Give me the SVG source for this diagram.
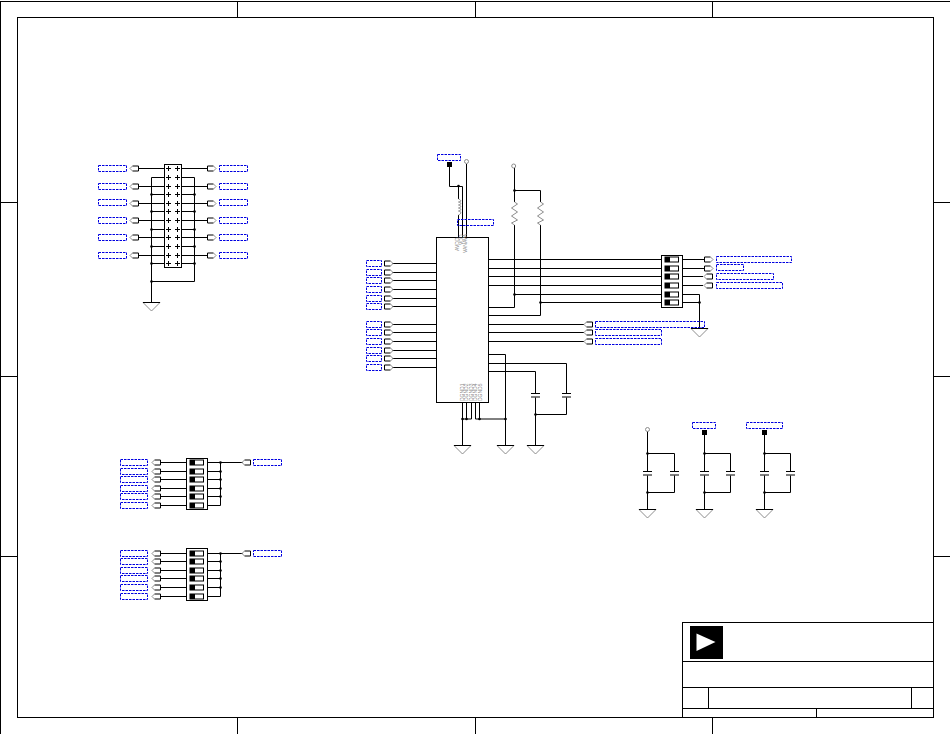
<svg xmlns="http://www.w3.org/2000/svg" width="950" height="734" viewBox="0 0 950 734">
<style>
.w{fill:none;stroke:#000;stroke-width:1}
.box{fill:#fff;stroke:#000;stroke-width:1}
.lbl{fill:none;stroke:#0000e0;stroke-width:1;stroke-dasharray:2.5 1}
.g{fill:none;stroke:#808080;stroke-width:.9}
.pin{font-family:"Liberation Sans",Arial,sans-serif;font-size:5px;fill:#888}
</style>
<defs>
<g id="pr"><path class="w" d="M6,-2.5H0V2.5H6"/><path class="g" d="M6,-2.5L8.5,0L6,2.5"/></g>
<g id="pl"><path class="w" d="M-6,-2.5H0V2.5H-6"/><path class="g" d="M-6,-2.5L-8.5,0L-6,2.5"/></g>
<g id="gnd"><path class="g" d="M-8.5,0L0,8.5L8.5,0"/><path class="w" d="M-8.5,0H8.5"/></g>
<path id="cap" class="w" d="M-4.5,0H4.5M-4.5,3.5H4.5"/>
<path id="x" class="w" d="M-2.5,0H2.5M0,-2.5V2.5"/>
<circle id="d" r="1.3" fill="#000"/>
<g id="sw"><rect class="box" x="0" y="-2.5" width="13.5" height="5"/><rect x="0" y="-2.5" width="5" height="5" fill="#000"/></g>
<path id="res" class="g" d="M0,0L3,2L-3,6L3,10L-3,14L3,18L-3,21L0,23"/>
</defs>

<g id="frame">
<rect class="w" x="0.5" y="1.5" width="952" height="735"/>
<rect class="w" x="17.5" y="17.5" width="916" height="700"/>
<path class="w" d="M237.5,1V17M475.5,1V17M712.5,1V17M237.5,718V734M475.5,718V734M712.5,718V734M1,202.5H17M1,376.5H17M1,556.5H17M934,202.5H950M934,376.5H950M934,556.5H950"/>
</g>

<g id="connectors">
<path class="w" d="M138.5,168.5H164M138.5,186.5H164M138.5,203.5H164M138.5,220.5H164M138.5,237.5H164M138.5,255.5H164M181,168.5H207.5M181,186.5H207.5M181,203.5H207.5M181,220.5H207.5M181,237.5H207.5M181,255.5H207.5"/>
<path class="w" d="M164,177.5H151.5V302M181,177.5H194.5V281.5H151.5M151.5,194.5H164M151.5,211.5H164M151.5,229.5H164M151.5,246.5H164M151.5,263.5H164M181,194.5H194.5M181,211.5H194.5M181,229.5H194.5M181,246.5H194.5M181,263.5H194.5"/>
<path class="w" d="M392.5,263.5H436M392.5,272.5H436M392.5,280.5H436M392.5,289.5H436M392.5,298.5H436M392.5,306.5H436M392.5,324.5H436M392.5,332.5H436M392.5,341.5H436M392.5,350.5H436M392.5,358.5H436M392.5,367.5H436"/>
<path class="w" d="M489,259.5H661M489,268.5H661M489,276.5H661M489,285.5H661M514.5,294.5H661M540.5,302.5H661M682,259.5H704.5M682,268.5H704.5M682,276.5H703M682,285.5H703M682,294.5H699.5V328M682,302.5H699.5"/>
<path class="w" d="M489,324.5H584M489,332.5H584M489,341.5H584"/>
<path class="w" d="M489,354.5H505.5V445M489,363.5H566.5V393.5M566.5,397.5V414.5H535.5M489,371.5H535.5V393.5M535.5,397.5V445"/>
<path class="w" d="M462.5,403V445M466.5,403V419M471.5,403V419H462.5M475.5,403V419H505.5M479.5,403V419"/>
<path class="w" d="M449.5,166V186.5H462.5V237M458.5,186.5V199M458.5,215V237M466.5,164V237"/>
<path class="w" d="M514.5,168V202M514.5,225V307.5H489M514.5,190.5H540.5V202M540.5,225V315.5H489"/>
<path class="w" d="M647.5,431.5V471.5M647.5,475.5V509M647.5,453.5H674.5V471.5M674.5,475.5V492.5H647.5"/>
<path class="w" d="M704.5,434V471.5M704.5,475.5V509M704.5,453.5H730.5V471.5M730.5,475.5V492.5H704.5"/>
<path class="w" d="M764.5,434V471.5M764.5,475.5V509M764.5,453.5H790.5V471.5M790.5,475.5V492.5H764.5"/>
<path class="w" d="M160.5,462.5H186M160.5,471.5H186M160.5,479.5H186M160.5,488.5H186M160.5,496.5H186M160.5,505.5H186M207.5,462.5H242.5M207.5,471.5H220.5M207.5,479.5H220.5M207.5,488.5H220.5M207.5,496.5H220.5M207.5,505.5H220.5V462.5"/>
<path class="w" d="M160.5,553.5H186M160.5,561.5H186M160.5,570.5H186M160.5,578.5H186M160.5,587.5H186M160.5,596.5H186M207.5,553.5H242.5M207.5,561.5H220.5M207.5,570.5H220.5M207.5,578.5H220.5M207.5,587.5H220.5M207.5,596.5H220.5V553.5"/>
<use href="#d" x="151.5" y="194.5"/><use href="#d" x="151.5" y="211.5"/><use href="#d" x="151.5" y="229.5"/><use href="#d" x="151.5" y="246.5"/><use href="#d" x="151.5" y="263.5"/><use href="#d" x="151.5" y="281.5"/>
<use href="#d" x="194.5" y="194.5"/><use href="#d" x="194.5" y="211.5"/><use href="#d" x="194.5" y="229.5"/><use href="#d" x="194.5" y="246.5"/><use href="#d" x="194.5" y="263.5"/>
<use href="#d" x="458.5" y="186"/><use href="#d" x="514.5" y="190.5"/><use href="#d" x="514.5" y="294.5"/><use href="#d" x="540.5" y="302.5"/><use href="#d" x="699.5" y="302.5"/>
<use href="#d" x="462.5" y="419"/><use href="#d" x="466.5" y="419"/><use href="#d" x="479.5" y="419"/><use href="#d" x="505.5" y="419"/><use href="#d" x="535.5" y="414.5"/>
<use href="#d" x="647.5" y="453.5"/><use href="#d" x="647.5" y="492.5"/><use href="#d" x="704.5" y="453.5"/><use href="#d" x="704.5" y="492.5"/><use href="#d" x="764.5" y="453.5"/><use href="#d" x="764.5" y="492.5"/>
<use href="#d" x="220.5" y="462.5"/><use href="#d" x="220.5" y="471.5"/><use href="#d" x="220.5" y="479.5"/><use href="#d" x="220.5" y="488.5"/><use href="#d" x="220.5" y="496.5"/>
<use href="#d" x="220.5" y="553.5"/><use href="#d" x="220.5" y="561.5"/><use href="#d" x="220.5" y="570.5"/><use href="#d" x="220.5" y="578.5"/><use href="#d" x="220.5" y="587.5"/>
</g>

<g id="J1">
<rect class="box" x="164.5" y="164.5" width="17" height="103"/>
<use href="#x" x="168.5" y="168.5"/><use href="#x" x="177.5" y="168.5"/><use href="#x" x="168.5" y="177.5"/><use href="#x" x="177.5" y="177.5"/><use href="#x" x="168.5" y="186.5"/><use href="#x" x="177.5" y="186.5"/><use href="#x" x="168.5" y="194.5"/><use href="#x" x="177.5" y="194.5"/><use href="#x" x="168.5" y="203.5"/><use href="#x" x="177.5" y="203.5"/><use href="#x" x="168.5" y="211.5"/><use href="#x" x="177.5" y="211.5"/><use href="#x" x="168.5" y="220.5"/><use href="#x" x="177.5" y="220.5"/><use href="#x" x="168.5" y="229.5"/><use href="#x" x="177.5" y="229.5"/><use href="#x" x="168.5" y="237.5"/><use href="#x" x="177.5" y="237.5"/><use href="#x" x="168.5" y="246.5"/><use href="#x" x="177.5" y="246.5"/><use href="#x" x="168.5" y="255.5"/><use href="#x" x="177.5" y="255.5"/><use href="#x" x="168.5" y="263.5"/><use href="#x" x="177.5" y="263.5"/>
</g>
<g id="J1-ports">
<use href="#pl" x="138.5" y="168.5"/><use href="#pl" x="138.5" y="186.5"/><use href="#pl" x="138.5" y="203.5"/><use href="#pl" x="138.5" y="220.5"/><use href="#pl" x="138.5" y="237.5"/><use href="#pl" x="138.5" y="255.5"/>
<use href="#pr" x="207.5" y="168.5"/><use href="#pr" x="207.5" y="186.5"/><use href="#pr" x="207.5" y="203.5"/><use href="#pr" x="207.5" y="220.5"/><use href="#pr" x="207.5" y="237.5"/><use href="#pr" x="207.5" y="255.5"/>
<rect class="lbl" x="98.5" y="165.5" width="28" height="6"/><rect class="lbl" x="98.5" y="183.5" width="28" height="6"/><rect class="lbl" x="98.5" y="199.5" width="28" height="6"/><rect class="lbl" x="98.5" y="217.5" width="28" height="6"/><rect class="lbl" x="98.5" y="234.5" width="28" height="6"/><rect class="lbl" x="98.5" y="252.5" width="28" height="6"/>
<rect class="lbl" x="219.5" y="165.5" width="28" height="6"/><rect class="lbl" x="219.5" y="183.5" width="28" height="6"/><rect class="lbl" x="219.5" y="199.5" width="28" height="6"/><rect class="lbl" x="219.5" y="217.5" width="28" height="6"/><rect class="lbl" x="219.5" y="234.5" width="28" height="6"/><rect class="lbl" x="219.5" y="252.5" width="28" height="6"/>
<use href="#gnd" x="151.5" y="302.5"/>
</g>

<g id="U1">
<rect class="box" x="436.5" y="237.5" width="52" height="165"/>
<g class="pin">
<text transform="translate(459,251) rotate(-90)">AVDD</text>
<text transform="translate(463,245) rotate(-90)">VDD</text>
<text transform="translate(467,253) rotate(-90)">VANAVA</text>
<text transform="translate(464,401) rotate(-90)">DGND1</text>
<text transform="translate(468.3,401) rotate(-90)">DGND2</text>
<text transform="translate(472.8,401) rotate(-90)">DGND3</text>
<text transform="translate(477.3,401) rotate(-90)">DGND4</text>
<text transform="translate(481.5,401) rotate(-90)">DGND5</text>
</g>
</g>
<g id="U1-ports">
<use href="#pr" x="384.5" y="263.5"/><use href="#pr" x="384.5" y="272.5"/><use href="#pr" x="384.5" y="280.5"/><use href="#pr" x="384.5" y="289.5"/><use href="#pr" x="384.5" y="298.5"/><use href="#pr" x="384.5" y="306.5"/>
<use href="#pr" x="384.5" y="324.5"/><use href="#pr" x="384.5" y="332.5"/><use href="#pr" x="384.5" y="341.5"/><use href="#pr" x="384.5" y="350.5"/><use href="#pr" x="384.5" y="358.5"/><use href="#pr" x="384.5" y="367.5"/>
<rect class="lbl" x="366.5" y="260.5" width="15" height="6"/><rect class="lbl" x="366.5" y="269.5" width="15" height="6"/><rect class="lbl" x="366.5" y="277.5" width="15" height="6"/><rect class="lbl" x="366.5" y="286.5" width="15" height="6"/><rect class="lbl" x="366.5" y="295.5" width="15" height="6"/><rect class="lbl" x="366.5" y="303.5" width="15" height="6"/>
<rect class="lbl" x="366.5" y="321.5" width="15" height="6"/><rect class="lbl" x="366.5" y="329.5" width="15" height="6"/><rect class="lbl" x="366.5" y="338.5" width="15" height="6"/><rect class="lbl" x="366.5" y="347.5" width="15" height="6"/><rect class="lbl" x="366.5" y="355.5" width="15" height="6"/><rect class="lbl" x="366.5" y="364.5" width="15" height="6"/>
<use href="#pl" x="592.5" y="324.5"/><use href="#pl" x="592.5" y="332.5"/><use href="#pl" x="592.5" y="341.5"/>
<rect class="lbl" x="595.5" y="321.5" width="109" height="6"/><rect class="lbl" x="595.5" y="329.5" width="66" height="6"/><rect class="lbl" x="595.5" y="338.5" width="66" height="6"/>
<use href="#gnd" x="462.5" y="445.5"/><use href="#gnd" x="505.5" y="445.5"/><use href="#gnd" x="535.5" y="445.5"/>
<use href="#cap" x="535.5" y="393.5"/><use href="#cap" x="566.5" y="393.5"/>
</g>

<g id="U1-supply">
<rect class="lbl" x="437.5" y="154.5" width="23" height="6"/>
<rect x="447" y="162" width="5" height="5" fill="#000"/>
<circle class="g" cx="466.5" cy="161.5" r="2"/>
<path class="g" d="M458.5,199c3,1 3,3 0,3c3,0 3,3 0,3c3,0 3,3 0,3c3,0 3,3 0,3c3,0 3,3 0,4"/>
<rect class="lbl" x="457.5" y="219.5" width="36" height="6"/>
<circle class="g" cx="513.7" cy="166" r="2"/>
<use href="#res" x="514.5" y="202"/><use href="#res" x="540.5" y="202"/>
</g>

<g id="SW1">
<rect class="box" x="661.5" y="255.5" width="21" height="52"/>
<use href="#sw" x="665" y="259.5"/><use href="#sw" x="665" y="268.5"/><use href="#sw" x="665" y="276.5"/><use href="#sw" x="665" y="285.5"/><use href="#sw" x="665" y="294.5"/><use href="#sw" x="665" y="302.5"/>
<use href="#pr" x="704.5" y="259.5"/><use href="#pr" x="704.5" y="268.5"/><use href="#pl" x="712.5" y="276.5"/><use href="#pl" x="712.5" y="285.5"/>
<rect class="lbl" x="716.5" y="256.5" width="75" height="6"/><rect class="lbl" x="716.5" y="264.5" width="27" height="6"/><rect class="lbl" x="716.5" y="273.5" width="57" height="6"/><rect class="lbl" x="716.5" y="282.5" width="66" height="6"/>
<use href="#gnd" x="699.5" y="328.5"/>
</g>

<g id="decoupling">
<circle class="g" cx="647.5" cy="429.5" r="2"/>
<use href="#cap" x="647.5" y="471.5"/><use href="#cap" x="674.5" y="471.5"/><use href="#gnd" x="647.5" y="509.5"/>
<rect class="lbl" x="692.5" y="422.5" width="23" height="6"/><rect x="702" y="430" width="5" height="5" fill="#000"/>
<use href="#cap" x="704.5" y="471.5"/><use href="#cap" x="730.5" y="471.5"/><use href="#gnd" x="704.5" y="509.5"/>
<rect class="lbl" x="746.5" y="422.5" width="36" height="6"/><rect x="762" y="430" width="5" height="5" fill="#000"/>
<use href="#cap" x="764.5" y="471.5"/><use href="#cap" x="790.5" y="471.5"/><use href="#gnd" x="764.5" y="509.5"/>
</g>

<g id="SW2">
<rect class="box" x="186.5" y="458.5" width="21" height="51"/>
<use href="#sw" x="190" y="462.5"/><use href="#sw" x="190" y="471.5"/><use href="#sw" x="190" y="479.5"/><use href="#sw" x="190" y="488.5"/><use href="#sw" x="190" y="496.5"/><use href="#sw" x="190" y="505.5"/>
<use href="#pl" x="160.5" y="462.5"/><use href="#pl" x="160.5" y="471.5"/><use href="#pl" x="160.5" y="479.5"/><use href="#pl" x="160.5" y="488.5"/><use href="#pl" x="160.5" y="496.5"/><use href="#pl" x="160.5" y="505.5"/>
<rect class="lbl" x="120.5" y="459.5" width="27" height="6"/><rect class="lbl" x="120.5" y="468.5" width="27" height="6"/><rect class="lbl" x="120.5" y="476.5" width="27" height="6"/><rect class="lbl" x="120.5" y="485.5" width="27" height="6"/><rect class="lbl" x="120.5" y="493.5" width="27" height="6"/><rect class="lbl" x="120.5" y="502.5" width="27" height="6"/>
<use href="#pl" x="250.5" y="462.5"/><rect class="lbl" x="253.5" y="459.5" width="28" height="6"/>
</g>

<g id="SW3">
<rect class="box" x="186.5" y="548.5" width="21" height="52"/>
<use href="#sw" x="190" y="553.5"/><use href="#sw" x="190" y="561.5"/><use href="#sw" x="190" y="570.5"/><use href="#sw" x="190" y="578.5"/><use href="#sw" x="190" y="587.5"/><use href="#sw" x="190" y="596.5"/>
<use href="#pl" x="160.5" y="553.5"/><use href="#pl" x="160.5" y="561.5"/><use href="#pl" x="160.5" y="570.5"/><use href="#pl" x="160.5" y="578.5"/><use href="#pl" x="160.5" y="587.5"/><use href="#pl" x="160.5" y="596.5"/>
<rect class="lbl" x="120.5" y="550.5" width="27" height="6"/><rect class="lbl" x="120.5" y="558.5" width="27" height="6"/><rect class="lbl" x="120.5" y="567.5" width="27" height="6"/><rect class="lbl" x="120.5" y="575.5" width="27" height="6"/><rect class="lbl" x="120.5" y="584.5" width="27" height="6"/><rect class="lbl" x="120.5" y="593.5" width="27" height="6"/>
<use href="#pl" x="250.5" y="553.5"/><rect class="lbl" x="253.5" y="550.5" width="28" height="6"/>
</g>

<g id="title-block">
<rect class="w" x="682.5" y="622.5" width="251" height="95"/>
<path class="w" d="M682.5,661.5H933.5M682.5,687.5H933.5M682.5,708.5H933.5M708.5,687.5V708.5M911.5,687.5V708.5M816.5,708.5V717.5"/>
<rect x="690" y="626" width="33" height="33" fill="#000"/>
<path d="M696.5,633.5L715.5,642L696.5,651Z" fill="#fff"/>
</g>
</svg>
